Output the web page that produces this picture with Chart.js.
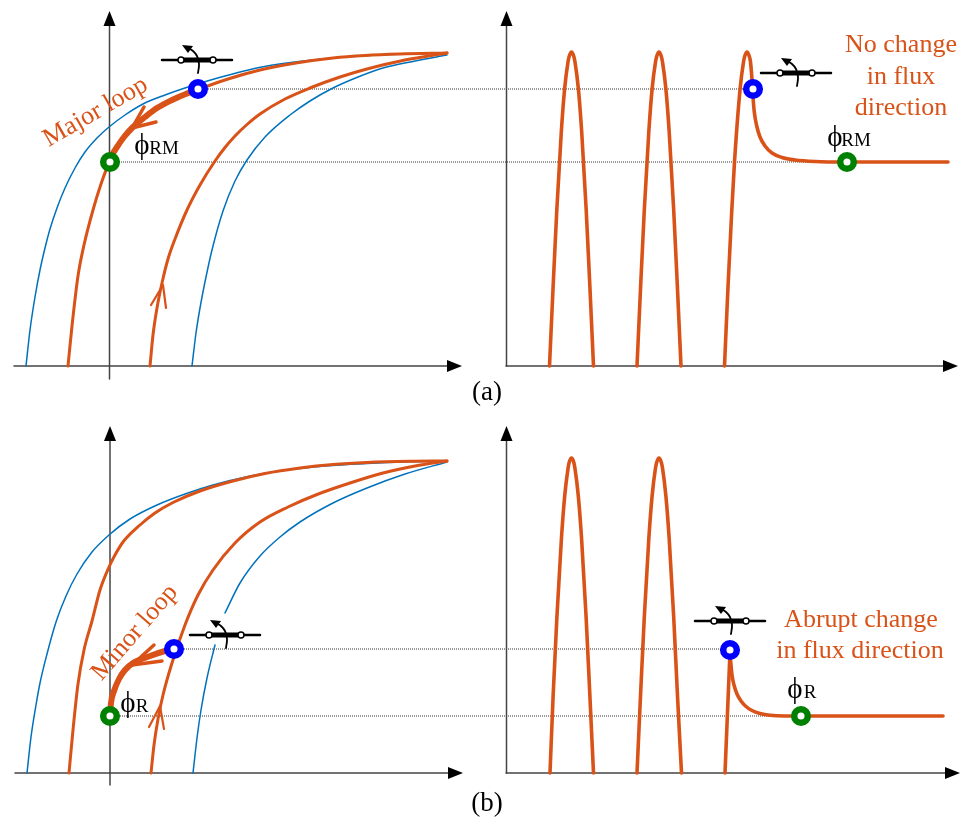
<!DOCTYPE html>
<html>
<head>
<meta charset="UTF-8">
<title>Flux loops</title>
<script src="https://cdn.jsdelivr.net/npm/chart.js"></script>
<style>
    html, body { margin: 0; padding: 0; background: #fff; overflow: hidden; }
    canvas { display: block; }
</style>
</head>
<body>
<canvas id="grafico" width="963" height="818"></canvas>
<script>
// values, in picture units (x right, y down)

// (a) flux against current
const blueLeftA = [[26,366],[30,330],[35,297],[40,270],[45,248],[50,229],[57,208],[65,188],[75,168],[85,152],[97,138],[109,127],[125,115],[143,104],[165,95],[188,87],[225,76],[267,66],[333,58],[390,54.5],[447,53]];
const blueRightA = [[192,366],[196,333],[200,308],[206,277],[212,250],[223,211],[235,181],[247,160],[265,137],[290,115],[310,101],[333,88],[358,77],[383,68],[415,61],[447,55]];
const orangeLeftA = [[68,366],[72,326],[78,276],[84,245],[93,210],[101,184],[109,163],[120,144],[132,128],[150,112],[170,101],[197,90],[228,79],[260,70],[296,63],[333,58],[365,55.5],[400,54],[447,53]];
const orangeRightA = [[150,366],[153,335],[157,308],[162,283],[168,259],[175,239],[187,210],[200,185],[215,161],[225,147.5],[235,136],[247,124.5],[260,114],[285,99],[310,88],[340,77],[367,69],[405,60],[447,53]];
const majorLoop = [[197,90],[187,93.5],[172,100],[157,108],[145,117],[133,127],[124,137],[117,147],[112,155],[109,162]];
const majorBarbs = [[144,107],[132,128],[156,122]];
const riseBarbsA = [[151,305],[163,285],[166,308]];

// (a) flux against time
const hump1A = [[549.5,366],[553.1,287],[556.8,210],[561.3,132],[564.6,89],[568,62],[569.3,56],[571.5,52],[573.7,56],[575,62],[578.4,89],[581.7,132],[586.2,210],[589.9,287],[593.5,366]];
const hump2A = [[637,366],[640.6,287],[644.3,210],[648.8,132],[652.1,89],[655.5,62],[656.8,56],[659,52],[661.2,56],[662.5,62],[665.9,89],[669.2,132],[673.7,210],[677.4,287],[681,366]];
const hump3A = [[724.5,366],[728,287],[731.8,210],[734.5,162],[740.1,89],[743.5,62],[744.8,56],[747,52],[749.2,56],[750.5,62],[752,80],[753,97],[754.3,112],[756.5,125],[760,137],[765,146],[772,153],[782,157.5],[795,160],[815,161.5],[847,162],[948,162]];

// (b) flux against current
const blueLeftB = [[27,773],[31,737],[36,705],[40,683],[47,654],[56,622],[66,596],[77,574],[92,552],[109,535],[130,519],[157,505],[185,494],[213,485],[248,476.5],[283,470.5],[325,466],[367,463.5],[410,461.8],[447,461]];
const blueRightLowB = [[193,773],[197,738],[201,710],[207,678],[215,645]];
const blueRightHighB = [[225,613],[240,583],[260,556],[280,537],[300,522],[333,503],[367,488],[405,474],[447,462]];
const orangeLeftB = [[69,773],[73,730],[78,684],[84,650],[92,621],[100,590],[109,567],[115,555],[123,542],[140,525],[155,513],[173,502.5],[200,491],[233,481],[265,473.5],[300,468],[333,464.5],[367,462.5],[410,461.3],[447,461]];
const orangeRightB = [[151,773],[154,745],[158,719],[163,695],[172,663],[185,625],[198,595],[213,570],[235,543],[260,522],[288,507],[317,494.5],[350,483],[383,473],[415,466],[447,461]];
const minorLoop = [[174,649],[165,651],[150,656],[133,663],[125,670],[119,679],[114,691],[111,703],[110,716]];
const minorBarbs = [[154,645],[132,665],[162,661]];
const riseBarbsB = [[149,727],[160,706],[164,729]];

// (b) flux against time
const hump1B = [[550,773],[553.2,694],[556.9,617],[561.4,539],[564.7,496],[568.1,468],[569.3,462],[571.5,458],[573.7,462],[574.9,468],[578.3,496],[581.6,539],[586.1,617],[589.8,694],[593.5,773]];
const hump2B = [[637,773],[640.6,694],[644.3,617],[648.8,539],[652.1,496],[655.5,468],[656.8,462],[659,458],[661.2,462],[662.5,468],[665.9,496],[669.2,539],[673.7,617],[677.4,694],[681.5,773]];
const riseB = [[725,773],[730,652]];
const decayB = [[730,652],[730.8,663],[732,675],[734,685],[737,694],[741,701],[746,706.5],[752,710.5],[760,713.5],[770,715.3],[785,716],[943,716]];

// guide lines and markers
const guides = [[[198,89],[753,89]],[[109,162],[847,162]],[[174,649],[730,649]],[[110,716],[801,716]]];
const blueDots = [[198,89],[753,89],[174,649],[730,650]];
const greenDots = [[110,162],[847,162],[110,716],[801,716]];

// switch symbol, and where the copies sit
const switchWire = [[162,60],[232,60]];
const switchBlade = [[181,60],[213,60]];
const switchArc = [[198,73],[199,64],[197,56],[193,51],[188,48]];
const switchHead = [[182,45],[193,46],[188,53]];
const switchShift = [[0,0],[599,13],[28,575],[533,561]];

// axes: [x from, x tip, y]  and  [x, y tip, y bottom]
const hAxes = [[14,462,366],[506,958,366],[15,463,773],[506,960,773]];
const vAxes = [[109.5,11,379],[506.5,11,366],[110,426,785],[506.5,426,773]];

const ORANGE = '#D95319';
const BLUE = '#0072BD';
const labels = [
    {t: 'Major loop', x: 99, y: 118, rot: -30, size: 26, c: ORANGE},
    {t: 'Minor loop', x: 140, y: 637, rot: -49, size: 26, c: ORANGE},
    {t: 'No change', x: 901, y: 52, size: 26, c: ORANGE},
    {t: 'in flux', x: 901, y: 84, size: 26, c: ORANGE},
    {t: 'direction', x: 901, y: 115, size: 26, c: ORANGE},
    {t: 'Abrupt change', x: 861, y: 627, size: 26, c: ORANGE},
    {t: 'in flux direction', x: 860, y: 658, size: 26, c: ORANGE},
    {t: '(a)', x: 487, y: 400, size: 27, c: '#000'},
    {t: '(b)', x: 487, y: 811, size: 27, c: '#000'},
    {t: 'ϕ', x: 142, y: 154, size: 29, c: '#000'},
    {t: 'RM', x: 164, y: 154, size: 19, c: '#000'},
    {t: 'ϕ', x: 835, y: 146, size: 29, c: '#000'},
    {t: 'RM', x: 856, y: 146, size: 19, c: '#000'},
    {t: 'ϕ', x: 128, y: 712, size: 29, c: '#000'},
    {t: 'R', x: 142, y: 712, size: 19, c: '#000'},
    {t: 'ϕ', x: 795, y: 698, size: 29, c: '#000'},
    {t: 'R', x: 810, y: 698, size: 19, c: '#000'}
];

const pts = arr => arr.map(p => ({x: p[0], y: p[1]}));
const shift = (arr, d) => arr.map(p => [p[0] + d[0], p[1] + d[1]]);

const datasets = [];

function curve(arr, color, width, tension) {
    datasets.push({
        data: pts(arr), showLine: true, borderColor: color, borderWidth: width,
        tension: tension === undefined ? 0.4 : tension,
        cubicInterpolationMode: tension === undefined ? 'monotone' : 'default',
        pointRadius: 0, borderCapStyle: 'round', borderJoinStyle: 'round', fill: false
    });
}

function shape(arr, color) {
    datasets.push({
        data: pts(arr), showLine: true, borderColor: color, borderWidth: 0, backgroundColor: color,
        tension: 0, pointRadius: 0, fill: 'shape'
    });
}

function dots(arr, color, radius, width) {
    datasets.push({
        data: pts(arr), showLine: false, pointRadius: radius, pointBorderWidth: width,
        pointBorderColor: color, pointBackgroundColor: '#fff'
    });
}

guides.forEach(g => {
    datasets.push({
        data: pts(g), showLine: true, borderColor: '#333', borderWidth: 1, borderDash: [1, 1],
        tension: 0, pointRadius: 0
    });
});

hAxes.forEach(a => {
    curve([[a[0], a[2]], [a[1] - 12, a[2]]], '#444', 1.5, 0);
    shape([[a[1], a[2]], [a[1] - 15, a[2] - 6], [a[1] - 15, a[2] + 6]], '#000');
});
vAxes.forEach(a => {
    curve([[a[0], a[2]], [a[0], a[1] + 12]], '#444', 1.5, 0);
    shape([[a[0], a[1]], [a[0] - 6, a[1] + 15], [a[0] + 6, a[1] + 15]], '#000');
});

[blueLeftA, blueRightA, blueLeftB, blueRightLowB, blueRightHighB].forEach(c => curve(c, BLUE, 1.5));
[orangeLeftA, orangeRightA, orangeLeftB, orangeRightB].forEach(c => curve(c, ORANGE, 3));
[hump1A, hump2A, hump3A, hump1B, hump2B, decayB].forEach(c => curve(c, ORANGE, 3.6));
curve(riseB, ORANGE, 3.6, 0);

curve(majorLoop, ORANGE, 6);
curve(minorLoop, ORANGE, 6);
curve(majorBarbs, ORANGE, 3.5, 0);
curve(minorBarbs, ORANGE, 3.5, 0);
curve(riseBarbsA, ORANGE, 2.2, 0);
curve(riseBarbsB, ORANGE, 2.2, 0);

switchShift.forEach(d => {
    curve(shift(switchWire, d), '#000', 2.5, 0);
    curve(shift(switchBlade, d), '#000', 5, 0);
    curve(shift(switchArc, d), '#000', 1.8, 0.4);
    shape(shift(switchHead, d), '#000');
    dots(shift(switchBlade, d), '#000', 3, 1.5);
});

dots(blueDots, '#0000FF', 6.8, 6.5);
dots(greenDots, '#008000', 6.8, 6.5);

// first dataset is painted last, so flip to keep the push order
datasets.reverse();

const textos = {
    id: 'textos',
    afterDatasetsDraw(chart) {
        const ctx = chart.ctx;
        const sx = chart.scales.x, sy = chart.scales.y;
        labels.forEach(l => {
            ctx.save();
            ctx.translate(sx.getPixelForValue(l.x), sy.getPixelForValue(l.y));
            if (l.rot) ctx.rotate(l.rot * Math.PI / 180);
            ctx.font = l.size + 'px "Liberation Serif"';
            ctx.fillStyle = l.c;
            ctx.textAlign = 'center';
            ctx.textBaseline = 'alphabetic';
            ctx.fillText(l.t, 0, 0);
            ctx.restore();
        });
    }
};

new Chart(document.getElementById('grafico'), {
    type: 'scatter',
    data: {datasets: datasets},
    plugins: [textos],
    options: {
        responsive: false,
        animation: false,
        layout: {padding: 0, autoPadding: false},
        plugins: {legend: {display: false}, tooltip: {enabled: false}},
        scales: {
            x: {type: 'linear', min: 0, max: 963, display: false},
            y: {type: 'linear', min: 0, max: 818, reverse: true, display: false}
        }
    }
});
</script>
</body>
</html>
